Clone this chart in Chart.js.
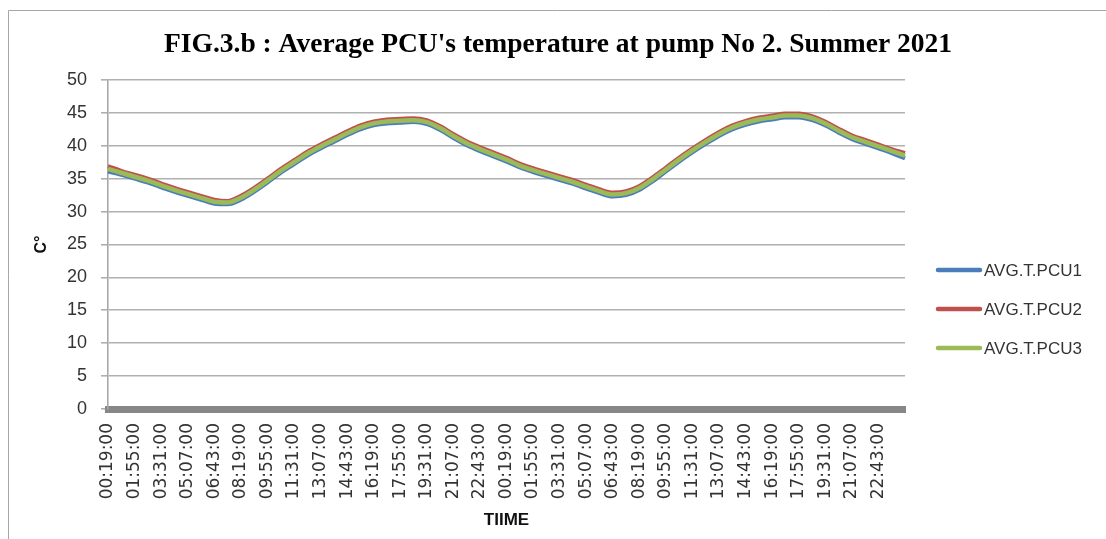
<!DOCTYPE html>
<html>
<head>
<meta charset="utf-8">
<script src="https://cdn.jsdelivr.net/npm/chart.js@4.4.0/dist/chart.umd.min.js"></script>
<style>
html,body{margin:0;padding:0;background:#fff;}
#wrap{width:1106px;height:539px;position:relative;}
</style>
</head>
<body>
<div id="wrap"><canvas id="c" width="1106" height="539"></canvas></div>
<script>
// ---- categories (48-minute samples over two days) ----
const times = [
 "00:19:00","01:07:00","01:55:00","02:43:00","03:31:00","04:19:00","05:07:00","05:55:00","06:43:00","07:31:00",
 "08:19:00","09:07:00","09:55:00","10:43:00","11:31:00","12:19:00","13:07:00","13:55:00","14:43:00","15:31:00",
 "16:19:00","17:07:00","17:55:00","18:43:00","19:31:00","20:19:00","21:07:00","21:55:00","22:43:00","23:31:00",
 "00:19:00","01:07:00","01:55:00","02:43:00","03:31:00","04:19:00","05:07:00","05:55:00","06:43:00","07:31:00",
 "08:19:00","09:07:00","09:55:00","10:43:00","11:31:00","12:19:00","13:07:00","13:55:00","14:43:00","15:31:00",
 "16:19:00","17:07:00","17:55:00","18:43:00","19:31:00","20:19:00","21:07:00","21:55:00","22:43:00","23:31:00",
 "00:19:00"
];

// ---- series values (°C) ----
const pcu1 = [
 36.1,35.6,35.0,34.4,33.7,33.0,32.4,31.8,31.2,31.1,
 31.8,33.0,34.4,35.9,37.2,38.5,39.6,40.6,41.6,42.5,
 43.1,43.4,43.5,43.6,43.3,42.4,41.2,40.1,39.2,38.4,
 37.6,36.7,36.0,35.4,34.8,34.2,33.5,32.8,32.3,32.5,
 33.3,34.6,36.1,37.6,39.0,40.3,41.5,42.5,43.2,43.7,
 44.0,44.3,44.3,43.9,43.1,42.0,41.0,40.3,39.6,38.9,
 38.1
];
const pcu2 = [
 36.9,36.2,35.6,35.0,34.3,33.6,33.0,32.4,31.8,31.6,
 32.4,33.6,35.0,36.5,37.8,39.1,40.2,41.2,42.2,43.1,
 43.7,44.0,44.1,44.2,43.9,43.0,41.8,40.7,39.8,39.0,
 38.2,37.3,36.6,36.0,35.4,34.8,34.1,33.4,32.9,33.1,
 33.9,35.2,36.7,38.2,39.6,40.9,42.1,43.1,43.8,44.3,
 44.6,44.9,44.9,44.5,43.7,42.6,41.6,40.9,40.2,39.5,
 38.9
];
const pcu3 = [
 36.5,35.9,35.3,34.7,34.0,33.3,32.7,32.1,31.5,31.4,
 32.1,33.3,34.7,36.2,37.5,38.8,39.9,40.9,41.9,42.8,
 43.4,43.7,43.8,43.9,43.6,42.7,41.5,40.4,39.5,38.7,
 37.9,37.0,36.3,35.7,35.1,34.5,33.8,33.1,32.6,32.8,
 33.6,34.9,36.4,37.9,39.3,40.6,41.8,42.8,43.5,44.0,
 44.3,44.6,44.6,44.2,43.4,42.3,41.3,40.6,39.9,39.2,
 38.5
];
const seriesNames = ["AVG.T.PCU1","AVG.T.PCU2","AVG.T.PCU3"];
const yTicks = [0,5,10,15,20,25,30,35,40,45,50];
const labelEvery = 2; // a tick label every 2 categories (1h36m)

const colors = ["#4A7EBB","#C0504D","#9BBB59"];

const framePlugin = {
  id: 'frame',
  beforeDraw(chart) {
    const ctx = chart.ctx;
    ctx.save();
    ctx.fillStyle = '#ffffff';
    ctx.fillRect(0, 0, chart.width, chart.height);
    ctx.strokeStyle = '#a6a6a6';
    ctx.lineWidth = 1;
    ctx.beginPath();
    ctx.moveTo(8.5, chart.height);
    ctx.lineTo(8.5, 10.5);
    ctx.lineTo(chart.width, 10.5);
    ctx.stroke();
    ctx.restore();
  }
};

const legendPlugin = {
  id: 'sideLegend',
  afterDraw(chart) {
    const ctx = chart.ctx;
    const area = chart.chartArea;
    const mid = (area.top + area.bottom) / 2;
    ctx.save();
    chart.data.datasets.forEach((ds, i) => {
      const y = mid + 25.5 + i * 39;
      ctx.strokeStyle = ds.borderColor;
      ctx.lineWidth = 4.5;
      ctx.lineCap = 'round';
      ctx.beginPath();
      ctx.moveTo(area.right + 33, y);
      ctx.lineTo(area.right + 75, y);
      ctx.stroke();
      ctx.fillStyle = '#333333';
      ctx.font = '17px "Liberation Sans"';
      ctx.textBaseline = 'middle';
      ctx.textAlign = 'left';
      ctx.fillText(ds.label, area.right + 79, y + 1);
    });
    ctx.restore();
  }
};

new Chart(document.getElementById('c'), {
  type: 'line',
  data: {
    labels: times,
    datasets: [
      {label: seriesNames[0], data: pcu1, borderColor: colors[0], backgroundColor: colors[0], borderWidth: 4, order: 3},
      {label: seriesNames[1], data: pcu2, borderColor: colors[1], backgroundColor: colors[1], borderWidth: 4, order: 2},
      {label: seriesNames[2], data: pcu3, borderColor: colors[2], backgroundColor: colors[2], borderWidth: 4.5, order: 1}
    ]
  },
  options: {
    responsive: false,
    animation: false,
    devicePixelRatio: 1,
    layout: {padding: {left: 10, right: 0, top: 0, bottom: 8}},
    elements: {
      line: {cubicInterpolationMode: 'monotone', fill: false},
      point: {radius: 0, hoverRadius: 0}
    },
    plugins: {
      legend: {display: false},
      tooltip: {enabled: false},
      title: {
        display: true,
        text: "FIG.3.b : Average PCU's temperature at pump No 2. Summer 2021",
        color: '#000000',
        font: {family: '"Liberation Serif"', size: 27.5, weight: 'bold', lineHeight: 1.2},
        padding: {top: 28, bottom: 19}
      }
    },
    scales: {
      x: {
        type: 'category',
        offset: false,
        grid: {display: false, drawTicks: false},
        border: {display: true, color: '#878787', width: 7},
        ticks: {
          autoSkip: false,
          minRotation: 90,
          maxRotation: 90,
          padding: 14,
          color: '#333333',
          font: {family: '"DejaVu Sans"', size: 17},
          callback: function(v, i) {
            return (i % labelEvery === 0 && i < times.length - 1) ? times[i] : '';
          }
        },
        title: {
          display: true,
          text: 'TIIME',
          color: '#111111',
          font: {family: '"Liberation Sans"', size: 17, weight: 'bold', lineHeight: 1.2},
          padding: {top: 0, bottom: 0}
        },
        afterFit: (s) => { s.height = 122; }
      },
      y: {
        min: 0,
        max: 50,
        afterBuildTicks: (s) => { s.ticks = yTicks.map(v => ({value: v})); },
        grid: {color: '#b0b0b0', lineWidth: 1.6, tickLength: 7},
        border: {display: true, color: '#a8a8a8', width: 1.6},
        ticks: {
          padding: 14,
          color: '#333333',
          font: {family: '"Liberation Sans"', size: 18}
        },
        title: {
          display: true,
          text: 'C°',
          color: '#111111',
          font: {family: '"Liberation Sans"', size: 16, weight: 'bold', lineHeight: 1.2},
          padding: {top: 22, bottom: 0}
        },
        afterFit: (s) => { s.width = 98; }
      },
      yRight: {
        position: 'right',
        display: true,
        grid: {display: false, drawTicks: false},
        border: {display: false},
        ticks: {display: false},
        afterFit: (s) => { s.width = 201; }
      }
    }
  },
  plugins: [framePlugin, legendPlugin]
});
</script>
</body>
</html>
